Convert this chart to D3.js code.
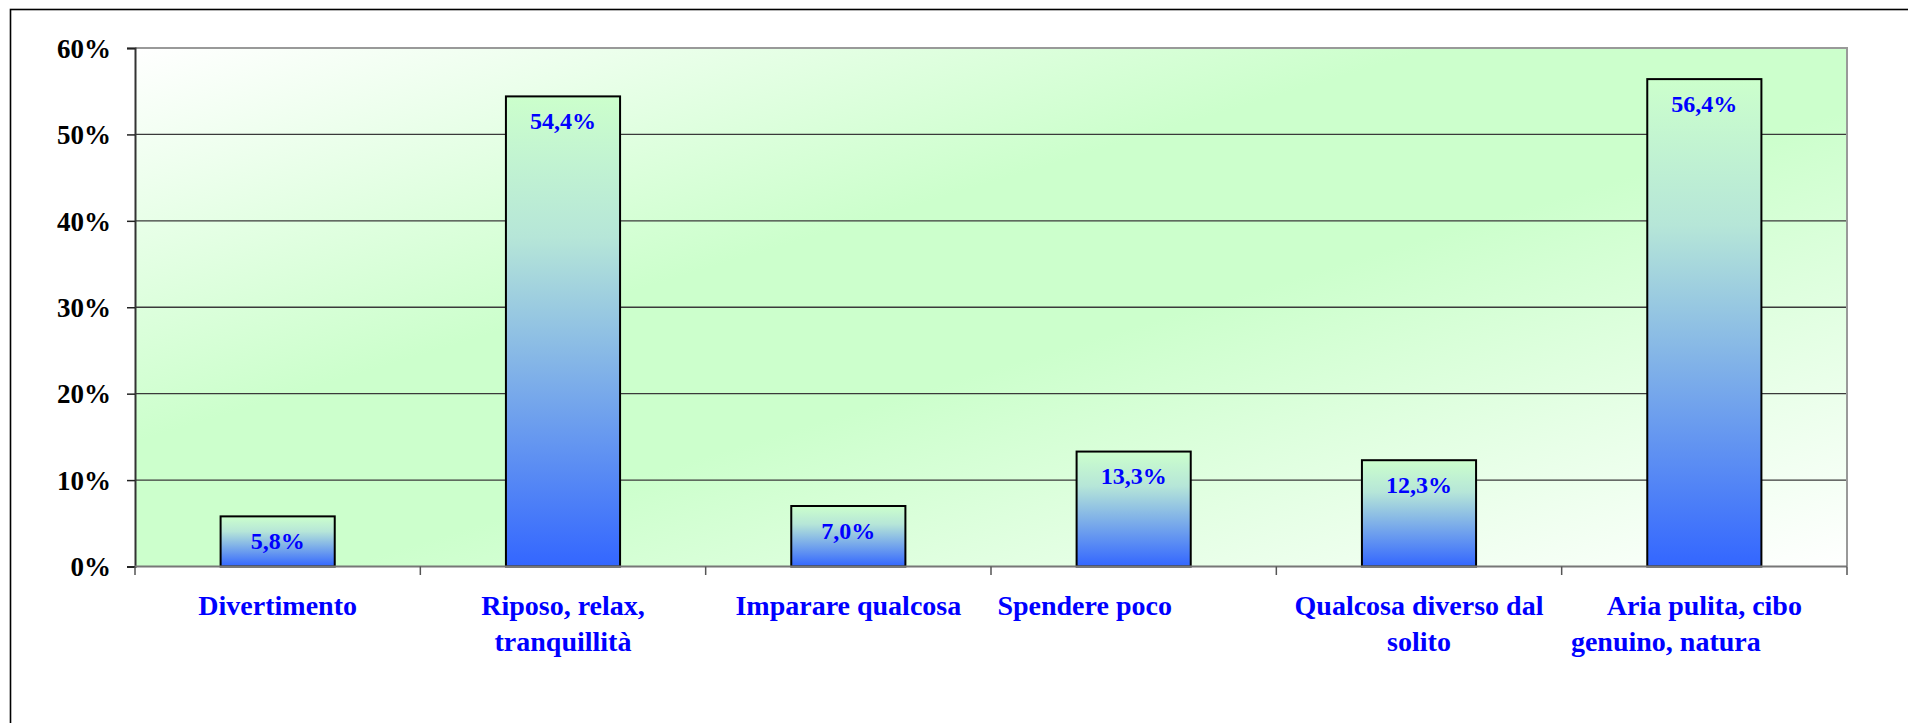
<!DOCTYPE html>
<html>
<head>
<meta charset="utf-8">
<script src="https://cdn.jsdelivr.net/npm/d3@7"></script>
<style>
  html, body { margin: 0; padding: 0; background: #fff; }
  svg { display: block; }
  text { font-family: "Liberation Serif", "Times New Roman", serif; font-weight: bold; }
</style>
</head>
<body>
<svg id="chart" width="1908" height="723"></svg>
<script>
// ---- data ----
const categories = [
  ["Divertimento"],
  ["Riposo, relax,", "tranquillità"],
  ["Imparare qualcosa"],
  ["Spendere poco\u00a0\u00a0\u00a0\u00a0\u00a0\u00a0\u00a0\u00a0\u00a0\u00a0\u00a0\u00a0\u00a0\u00a0"],
  ["Qualcosa diverso dal", "solito"],
  ["Aria pulita, cibo", "genuino, natura\u00a0\u00a0\u00a0\u00a0\u00a0\u00a0\u00a0\u00a0\u00a0\u00a0\u00a0"]
];
const values = [5.8, 54.4, 7.0, 13.3, 12.3, 56.4];
const yTicks = [0, 10, 20, 30, 40, 50, 60];

// ---- layout ----
const W = 1908, H = 723;
const plot = { left: 135, top: 48, right: 1847, bottom: 566.5 };

const svg = d3.select("#chart");
const defs = svg.append("defs");

const bg = defs.append("linearGradient").attr("id", "bgGrad")
  .attr("x1", 0).attr("y1", 0).attr("x2", 1).attr("y2", 1);
bg.append("stop").attr("offset", 0).attr("stop-color", "#ffffff");
bg.append("stop").attr("offset", 0.38).attr("stop-color", "#ccffcc");
bg.append("stop").attr("offset", 0.56).attr("stop-color", "#ccffcc");
bg.append("stop").attr("offset", 1).attr("stop-color", "#ffffff");

const barGrad = defs.append("linearGradient").attr("id", "barGrad")
  .attr("x1", 0).attr("y1", 0).attr("x2", 0).attr("y2", 1);
barGrad.append("stop").attr("offset", 0).attr("stop-color", "#ccffcc");
barGrad.append("stop").attr("offset", 0.3).attr("stop-color", "#b6e6d8");
barGrad.append("stop").attr("offset", 1).attr("stop-color", "#3366ff");

const itLocale = d3.formatLocale({ decimal: ",", thousands: ".", grouping: [3], currency: ["", " €"] });
const fmtVal = itLocale.format(".1f");

const x = d3.scaleBand()
  .domain(d3.range(categories.length))
  .range([plot.left, plot.right])
  .paddingInner(0.6)
  .paddingOuter(0.3);
const step = x.step();

const y = d3.scaleLinear().domain([0, 60]).range([plot.bottom, plot.top]);

// outer chart border
svg.append("rect")
  .attr("x", 10.5).attr("y", 9.5).attr("width", W + 50).attr("height", H + 50)
  .attr("fill", "none").attr("stroke", "#000").attr("stroke-width", 1.6);

// plot area background
svg.append("rect")
  .attr("x", plot.left).attr("y", plot.top)
  .attr("width", plot.right - plot.left).attr("height", plot.bottom - plot.top)
  .attr("fill", "url(#bgGrad)");

// gridlines
svg.append("g").selectAll("line")
  .data(yTicks.filter(d => d > 0 && d < 60))
  .join("line")
  .attr("x1", plot.left).attr("x2", plot.right)
  .attr("y1", d => y(d)).attr("y2", d => y(d))
  .attr("stroke", "#3a3a3a").attr("stroke-width", 1.3);

// plot border (top & right)
svg.append("path")
  .attr("d", `M${plot.left},${y(60)}H${plot.right}V${plot.bottom}`)
  .attr("fill", "none").attr("stroke", "#999").attr("stroke-width", 2);

// y axis
const yAxis = d3.axisLeft(y).tickValues(yTicks).tickSize(8).tickPadding(16)
  .tickFormat(d => d + "%");
const gy = svg.append("g").attr("transform", `translate(${plot.left},0)`).call(yAxis);
gy.select(".domain").attr("stroke", "#333").attr("stroke-width", 2);
gy.selectAll(".tick line").attr("stroke", "#222").attr("stroke-width", 1.5);
gy.selectAll(".tick text")
  .attr("fill", "#000").attr("font-size", 27)
  .attr("font-family", "Liberation Serif, Times New Roman, serif")
  .attr("font-weight", "bold")
  .attr("dy", "0.34em");

// bars
svg.append("g").selectAll("rect")
  .data(values)
  .join("rect")
  .attr("x", (d, i) => x(i))
  .attr("y", d => y(d))
  .attr("width", x.bandwidth())
  .attr("height", d => y(0) - y(d))
  .attr("fill", "url(#barGrad)")
  .attr("stroke", "#000").attr("stroke-width", 2);

// x axis line
svg.append("line")
  .attr("x1", plot.left).attr("x2", plot.right)
  .attr("y1", y(0)).attr("y2", y(0))
  .attr("stroke", "#777").attr("stroke-width", 2);

// category tick marks at band boundaries
svg.append("g").selectAll("line")
  .data(d3.range(categories.length + 1))
  .join("line")
  .attr("x1", i => plot.left + i * step).attr("x2", i => plot.left + i * step)
  .attr("y1", y(0)).attr("y2", y(0) + 8.5)
  .attr("stroke", "#555").attr("stroke-width", 1.5);

// value labels
svg.append("g").selectAll("text")
  .data(values)
  .join("text")
  .attr("x", (d, i) => x(i) + x.bandwidth() / 2)
  .attr("y", d => y(d) + 32.5)
  .attr("text-anchor", "middle")
  .attr("font-size", 24)
  .attr("fill", "#0000ff")
  .text(d => fmtVal(d) + "%");

// category labels
const catG = svg.append("g").selectAll("text")
  .data(categories)
  .join("text")
  .attr("x", (d, i) => x(i) + x.bandwidth() / 2)
  .attr("y", 615)
  .attr("text-anchor", "middle")
  .attr("font-size", 28)
  .attr("fill", "#0000ff")
  .style("white-space", "pre");
catG.selectAll("tspan")
  .data(d => d)
  .join("tspan")
  .attr("x", function () { return d3.select(this.parentNode).attr("x"); })
  .attr("dy", (d, j) => j === 0 ? 0 : 36)
  .text(d => d);
</script>
</body>
</html>
